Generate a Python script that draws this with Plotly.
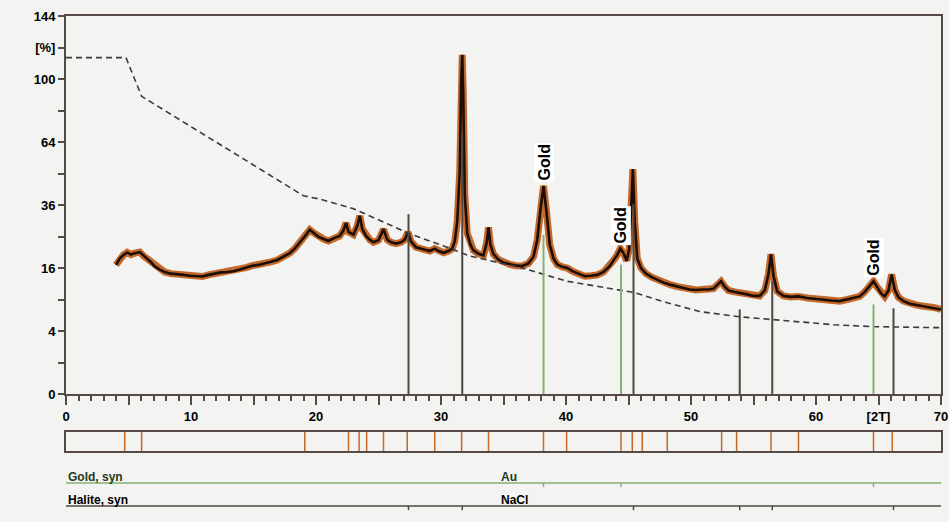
import numpy as np
import plotly.graph_objects as go

# ---------------- data ----------------
two_theta = [4.0, 4.3, 4.6, 4.9, 5.2, 5.5, 5.9, 6.2, 6.5, 6.8, 7.1, 7.5, 7.9, 8.4, 8.9, 9.4, 9.9,
             10.4, 10.9, 11.4, 11.9, 12.4, 12.9, 13.4, 13.9, 14.4, 14.9, 15.4, 15.9, 16.4, 16.9,
             17.4, 17.9, 18.3, 18.7, 19.1, 19.5, 19.8, 20.2, 20.6, 21.0, 21.4, 21.9, 22.2, 22.4,
             22.6, 23.0, 23.3, 23.5, 23.7, 24.0, 24.3, 24.6, 25.0, 25.4, 25.7, 26.0, 26.4, 26.8,
             27.1, 27.35, 27.6, 28.0, 28.5, 29.1, 29.5, 29.8, 30.2, 30.6, 30.9, 31.1, 31.3, 31.5,
             31.62, 31.7, 31.78, 31.9, 32.1, 32.35, 32.6, 33.0, 33.4, 33.65, 33.8, 33.95, 34.2,
             34.6, 35.0, 35.5, 36.0, 36.5, 37.0, 37.4, 37.7, 37.95, 38.2, 38.45, 38.7, 39.0, 39.3,
             39.7, 40.1, 40.5, 41.0, 41.5, 42.0, 42.5, 43.0, 43.5, 43.8, 44.1, 44.35, 44.6, 44.85,
             45.05, 45.2, 45.35, 45.5, 45.7, 46.0, 46.4, 46.9, 47.4, 47.9, 48.4, 48.9, 49.4, 49.9,
             50.4, 50.9, 51.4, 51.8, 52.1, 52.4, 52.7, 53.0, 53.5, 54.0, 54.5, 55.0, 55.5, 55.9,
             56.2, 56.4, 56.6, 56.9, 57.4, 58.0, 58.6, 59.3, 60.0, 60.6, 61.2, 61.9, 62.5, 63.0,
             63.5, 63.9, 64.3, 64.6, 64.9, 65.2, 65.5, 65.8, 66.05, 66.3, 66.6, 67.0, 67.5, 68.0,
             68.5, 69.0, 69.5, 70.0]
intensity = [16.8, 18.5, 19.5, 20.2, 19.6, 20.0, 20.3, 19.2, 18.4, 17.5, 16.4, 15.6, 15.0, 14.6,
             14.5, 14.3, 14.1, 14.0, 13.9, 14.3, 14.6, 14.9, 15.0, 15.2, 15.6, 16.1, 16.6, 16.8,
             17.3, 17.6, 18.1, 19.0, 20.0, 21.3, 23.0, 25.0, 27.2, 26.2, 24.9, 24.2, 23.6, 24.4,
             25.2, 27.0, 29.5, 26.5, 25.6, 28.5, 32.0, 27.5, 25.2, 24.0, 23.2, 23.8, 27.4, 24.0,
             23.2, 22.8, 23.2, 24.0, 26.4, 23.5, 21.7, 21.2, 20.6, 21.3, 20.6, 20.1, 20.6, 21.3,
             23.5, 30.0, 50.0, 100.0, 116.0, 90.0, 40.0, 26.0, 22.5, 20.8, 19.8, 19.4, 23.0, 28.0,
             22.5, 19.7, 18.2, 17.4, 16.9, 16.6, 16.5, 17.2, 19.0, 24.0, 34.0, 43.6, 33.0, 22.5,
             18.5, 16.9, 16.3, 16.0, 15.2, 14.5, 14.0, 14.1, 14.3, 15.0, 16.5, 18.0, 19.5, 21.3,
             20.0, 17.9, 21.0, 33.0, 51.0, 30.0, 18.5, 16.0, 14.6, 13.7, 13.0, 12.4, 12.0, 11.6,
             11.3, 11.0, 10.9, 11.0, 11.0, 11.2, 12.0, 12.8, 11.6, 10.8, 10.5, 10.3, 10.0, 9.7,
             9.7, 10.8, 14.5, 19.7, 14.0, 10.6, 9.7, 9.5, 9.6, 9.3, 9.1, 8.9, 8.8, 8.7, 9.0, 9.2,
             9.6, 10.5, 11.8, 12.8, 11.5, 10.2, 9.6, 10.8, 14.4, 11.0, 9.4, 8.7, 8.2, 8.0, 7.8,
             7.7, 7.5, 7.2]

bg_theta = [0.0, 4.8, 6.05, 19.0, 20.3, 23.0, 25.4, 27.4, 30.2, 32.3, 34.2, 36.3, 38.7, 40.1,
            42.7, 45.4, 48.1, 50.7, 53.9, 56.5, 61.4, 64.6, 70.0]
bg_intensity = [114.0, 114.0, 89.3, 39.6, 38.3, 34.6, 29.8, 26.0, 22.1, 19.2, 17.7, 16.2, 14.0,
                12.8, 11.6, 10.4, 8.4, 6.85, 6.0, 5.57, 4.84, 4.57, 4.43]

gold_pos = [38.2, 44.4, 64.6]
gold_int = [25.5, 16.9, 8.1]
halite_pos = [27.4, 31.7, 45.4, 53.9, 56.5, 66.2]
halite_int = [32.6, 68.0, 36.3, 7.2, 12.8, 7.4]

peak_list = [4.7, 6.05, 19.1, 22.6, 23.45, 24.05, 25.4, 27.3, 29.5, 31.65, 33.8, 38.2, 40.05,
             44.4, 45.3, 46.1, 48.1, 52.45, 53.65, 56.4, 58.6, 64.6, 66.1]

gold_labels_pos = [38.2, 44.4, 64.6]
gold_labels_int = [43.6, 21.3, 12.8]

y_tick_values = [0, 1, 4, 9, 16, 25, 36, 49, 64, 81, 100, 121, 144]
y_tick_labels = ["0", "", "4", "", "16", "", "36", "", "64", "", "100", "[%]", "144"]
x_tick_values = [0, 5, 10, 15, 20, 25, 30, 35, 40, 45, 50, 55, 60, 65, 70]
x_tick_labels = ["0", "", "10", "", "20", "", "30", "", "40", "", "50", "", "60", "[2T]", "70"]

# ---------------- styling ----------------
AX = "#554b44"
ORANGE = "#c4692c"
GREEN = "#86b074"
HALITE = "#4e4741"
BG = "#f3f3f1"
FONT = "Liberation Sans"


def sticks(xs, hs, base=0.0, transform=np.sqrt):
    xx, yy = [], []
    for x, h in zip(xs, hs):
        xx += [x, x, None]
        yy += [base, float(transform(h)), None]
    return xx, yy


fig = go.Figure()

sq = np.sqrt(np.array(intensity))
fig.add_trace(go.Scatter(x=two_theta, y=sq, mode="lines",
                         line=dict(color=ORANGE, width=7), xaxis="x", yaxis="y",
                         hoverinfo="skip", showlegend=False))
fig.add_trace(go.Scatter(x=two_theta, y=sq, mode="lines",
                         line=dict(color="#1c0d05", width=2.6), xaxis="x", yaxis="y",
                         showlegend=False))
fig.add_trace(go.Scatter(x=bg_theta, y=np.sqrt(np.array(bg_intensity)), mode="lines",
                         line=dict(color="#3a3a3a", width=1.6, dash="6px,4px"),
                         xaxis="x", yaxis="y", showlegend=False))
gx, gy = sticks(gold_pos, gold_int)
fig.add_trace(go.Scatter(x=gx, y=gy, mode="lines", line=dict(color=GREEN, width=2),
                         xaxis="x", yaxis="y", showlegend=False))
hx, hy = sticks(halite_pos, halite_int)
fig.add_trace(go.Scatter(x=hx, y=hy, mode="lines", line=dict(color=HALITE, width=2),
                         xaxis="x", yaxis="y", showlegend=False))

px_, py_ = [], []
for p in peak_list:
    px_ += [p, p, None]
    py_ += [0, 1, None]
fig.add_trace(go.Scatter(x=px_, y=py_, mode="lines", line=dict(color=ORANGE, width=1.5),
                         xaxis="x2", yaxis="y2", showlegend=False))

fig.add_trace(go.Scatter(x=[0, 70], y=[2, 2], mode="lines", line=dict(color=GREEN, width=1.5),
                         xaxis="x3", yaxis="y3", showlegend=False))
fig.add_trace(go.Scatter(x=[0, 70], y=[1, 1], mode="lines", line=dict(color=HALITE, width=1.5),
                         xaxis="x3", yaxis="y3", showlegend=False))
tx, ty = [], []
for p in gold_pos:
    tx += [p, p, None]
    ty += [2, 1.82, None]
fig.add_trace(go.Scatter(x=tx, y=ty, mode="lines", line=dict(color=GREEN, width=1.5),
                         xaxis="x3", yaxis="y3", showlegend=False))
tx, ty = [], []
for p in halite_pos:
    tx += [p, p, None]
    ty += [1, 0.82, None]
fig.add_trace(go.Scatter(x=tx, y=ty, mode="lines", line=dict(color=HALITE, width=1.5),
                         xaxis="x3", yaxis="y3", showlegend=False))

annotations = []
for p, h in zip(gold_labels_pos, gold_labels_int):
    annotations.append(dict(x=p, y=float(np.sqrt(h)), xref="x", yref="y", text="<b>Gold</b>",
                            textangle=-90, showarrow=False, xanchor="center", yanchor="bottom",
                            yshift=3, bgcolor="white", borderpad=1,
                            font=dict(family=FONT, size=16, color="black")))
annotations += [
    dict(x=0, y=2, xref="x3", yref="y3", text="<b>Gold, syn</b>", showarrow=False,
         xanchor="left", yanchor="bottom", yshift=-3,
         font=dict(family=FONT, size=12, color="#1d3a1d")),
    dict(x=0, y=1, xref="x3", yref="y3", text="<b>Halite, syn</b>", showarrow=False,
         xanchor="left", yanchor="bottom", yshift=-3,
         font=dict(family=FONT, size=12, color="black")),
    dict(x=34.6, y=2, xref="x3", yref="y3", text="<b>Au</b>", showarrow=False,
         xanchor="left", yanchor="bottom", yshift=-3,
         font=dict(family=FONT, size=12, color="#1d3a1d")),
    dict(x=34.6, y=1, xref="x3", yref="y3", text="<b>NaCl</b>", showarrow=False,
         xanchor="left", yanchor="bottom", yshift=-3,
         font=dict(family=FONT, size=12, color="black")),
]

H_PLOT = 522 - 16 - 10
main_bottom = (512 - 394) / H_PLOT
band_dom = [(512 - 451) / H_PLOT, (512 - 432) / H_PLOT]
phase_dom = [0, (512 - 468) / H_PLOT]

tickfont = dict(family=FONT, size=13, color="black")
fig.update_layout(
    width=949, height=522,
    margin=dict(l=66, r=8, t=16, b=10, autoexpand=False),
    paper_bgcolor=BG, plot_bgcolor=BG,
    showlegend=False,
    annotations=annotations,
    xaxis=dict(domain=[0, 1], range=[0, 70], anchor="y", showline=True, mirror=True,
               linecolor=AX, linewidth=2, ticks="outside", ticklen=9, tickwidth=2,
               tickcolor=AX, tickvals=x_tick_values,
               ticktext=["<b>%s</b>" % t if t else "" for t in x_tick_labels],
               tickfont=tickfont, showgrid=False, zeroline=False,
               minor=dict(dtick=1, ticks="outside", ticklen=5, tickwidth=1.5, tickcolor=AX,
                          showgrid=False)),
    yaxis=dict(domain=[main_bottom, 1], range=[0, 12], anchor="x", showline=True, mirror=True,
               linecolor=AX, linewidth=2, ticks="outside", ticklen=6, tickwidth=2,
               tickcolor=AX, tickvals=list(np.sqrt(y_tick_values)),
               ticktext=["<b>%s</b>" % t if t else "" for t in y_tick_labels],
               tickfont=tickfont, showgrid=False, zeroline=False),
    xaxis2=dict(domain=[0, 1], range=[0, 70], anchor="y2", showline=True, mirror=True,
                linecolor=AX, linewidth=2, showticklabels=False, ticks="", showgrid=False,
                zeroline=False),
    yaxis2=dict(domain=band_dom, range=[0, 1], anchor="x2", showline=True, mirror=True,
                linecolor=AX, linewidth=2, showticklabels=False, ticks="", showgrid=False,
                zeroline=False),
    xaxis3=dict(domain=[0, 1], range=[0, 70], anchor="y3", visible=False),
    yaxis3=dict(domain=phase_dom, range=[0.74, 2.65], anchor="x3", visible=False),
)

post = (
    "document.documentElement.style.margin='0';"
    "document.documentElement.style.overflow='hidden';"
    "document.body.style.margin='0';"
    "document.body.style.padding='0';"
    "document.body.style.overflow='hidden';"
    "document.body.style.background='" + BG + "';"
)
fig.write_html("out.html", config={"displayModeBar": False}, post_script=post)
